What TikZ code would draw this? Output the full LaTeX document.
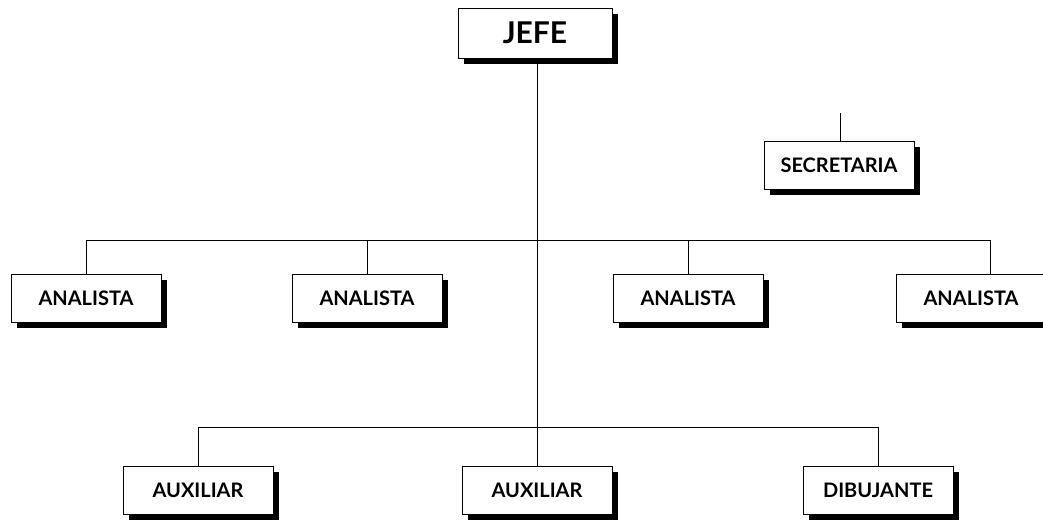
\documentclass[tikz,border=0pt]{standalone}
\usepackage{fontspec}
\newfontfamily\boxfont{Lato}
\usetikzlibrary{shadows}
\tikzset{
  box/.style={draw, line width=0.8pt, fill=white, minimum width=150pt, minimum height=48pt,
    inner sep=0pt, font=\boxfont\bfseries\fontsize{20}{24}\selectfont,
    general shadow={fill=black, shadow xshift=6pt, shadow yshift=-6pt}},
  bigbox/.style={box, minimum width=154pt, minimum height=50pt, font=\boxfont\bfseries\fontsize{30}{34}\selectfont},
  link/.style={line width=0.8pt}
}
\begin{document}
\begin{tikzpicture}[x=1pt,y=-1pt]
\useasboundingbox (0,0) rectangle (1043,522);
\clip (0,0) rectangle (1043,522);
\node[bigbox] (jefe) at (535,33) {JEFE};
\node[box] (sec) at (839,165) {SECRETARIA};
\node[box] (a1) at (86,298) {ANALISTA};
\node[box] (a2) at (367,298) {ANALISTA};
\node[box] (a3) at (688,298) {ANALISTA};
\node[box] (a4) at (971,298) {ANALISTA};
\node[box] (x1) at (198,490) {AUXILIAR};
\node[box] (x2) at (537,490) {AUXILIAR};
\node[box] (dib) at (878,490) {DIBUJANTE};
\coordinate (secTop) at (840,113);
\coordinate (a4in) at (990,274);
\coordinate (hA) at (537,240);
\coordinate (hX) at (537,427);
% main trunk
\draw[link] (x2.north) -- (x2.north |- jefe.south);
% secretaria stub
\draw[link] (sec.north -| secTop) -- (secTop);
% analistas
\draw[link] (a1.north) -- (a1.north |- hA) -- (a4in |- hA) -- (a4in);
\draw[link] (a2.north) -- (a2.north |- hA);
\draw[link] (a3.north) -- (a3.north |- hA);
% auxiliares
\draw[link] (x1.north) -- (x1.north |- hX) -- (dib.north |- hX) -- (dib.north);
\end{tikzpicture}
\end{document}
